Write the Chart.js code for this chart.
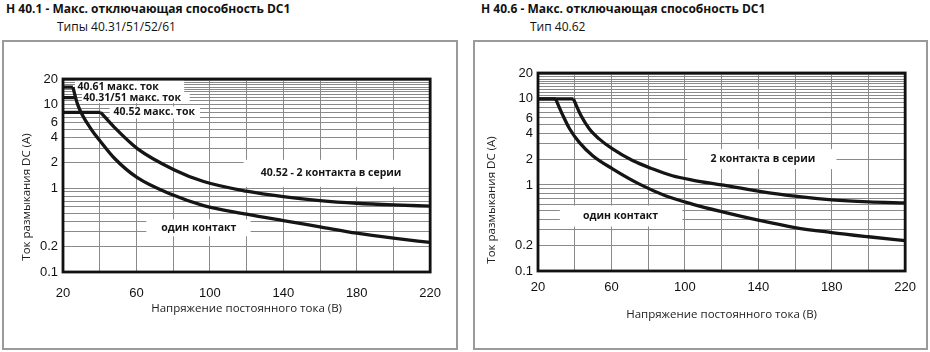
<!DOCTYPE html>
<html><head><meta charset="utf-8">
<script src="https://cdn.jsdelivr.net/npm/chart.js@4/dist/chart.umd.min.js"></script>
<style>
html,body{margin:0;padding:0;background:#fff;width:930px;height:352px;overflow:hidden;}
.t{position:absolute;font-family:"Open Sans",sans-serif;color:#111;white-space:nowrap;}
.h{font-weight:700;font-size:12px;}
.s{font-size:12px;}
.box{position:absolute;border:2px solid #9a9a9a;box-sizing:border-box;}
.cv{position:absolute;}
</style></head><body>
<div class="t h" style="left:6px;top:0px;">Н 40.1 - Макс. отключающая способность DC1</div>
<div class="t s" style="left:57px;top:18px;">Типы 40.31/51/52/61</div>
<div class="t h" style="left:481px;top:0px;">Н 40.6 - Макс. отключающая способность DC1</div>
<div class="t s" style="left:530px;top:18px;">Тип 40.62</div>
<div class="box" style="left:2px;top:40px;width:456px;height:310px;"></div>
<div class="box" style="left:473px;top:40px;width:455px;height:310px;"></div>
<div class="cv" style="left:4px;top:42px;width:451px;height:305px;"><canvas id="c1"></canvas></div>
<div class="cv" style="left:476px;top:42px;width:449px;height:305px;"><canvas id="c2"></canvas></div>
<script>
// ---- axes ----
const xGridValues = [20, 40, 60, 80, 100, 120, 140, 160, 180, 200, 220];
const xTickLabels = [20, 60, 100, 140, 180, 220];
const yGridValues = [0.1, 0.2, 0.3, 0.4, 0.5, 0.6, 0.7, 0.8, 0.9, 1, 2, 3, 4, 5, 6, 7, 8, 9, 10, 11, 12, 13, 14, 15, 16, 17, 18, 19, 20];
const yTickLabels = [0.1, 0.2, 1, 2, 4, 6, 10, 20];
const xTitle = 'Напряжение постоянного тока (В)';
const yTitle = 'Ток размыкания DC (A)';

// ---- Н 40.1 (types 40.31/51/52/61) ----
const l4061MaxV = [20, 25.4];  const l4061MaxA = [16, 16];
const l4031MaxV = [20, 27.2];  const l4031MaxA = [12, 12];
const l4052MaxV = [20, 40.5];  const l4052MaxA = [8, 8];
const lSingleV = [25.4, 28, 35.3, 40, 48, 60.5, 78.6, 96.6, 120, 140, 160, 180, 200, 220];
const lSingleA = [16, 9.9, 5.06, 3.7, 2.27, 1.33, 0.85, 0.62, 0.49, 0.41, 0.345, 0.29, 0.253, 0.225];
const lSeriesV = [40.5, 48, 60.5, 80.4, 96.6, 120, 140, 160, 180, 200, 220];
const lSeriesA = [8, 5.3, 2.96, 1.66, 1.2, 0.92, 0.79, 0.71, 0.66, 0.63, 0.61];

// ---- Н 40.6 (type 40.62) ----
const rSingleMaxV = [20, 29.6]; const rSingleMaxA = [10, 10];
const rSeriesMaxV = [20, 39.3]; const rSeriesMaxA = [10, 10];
const rSingleV = [29.6, 33.6, 37.2, 42.6, 49.8, 60.6, 75, 89.4, 104, 120, 140, 160, 180, 200, 220];
const rSingleA = [10, 6.4, 4.5, 3.1, 2.19, 1.54, 1.03, 0.75, 0.6, 0.49, 0.39, 0.32, 0.28, 0.25, 0.225];
const rSeriesV = [39.3, 43.4, 47.9, 53.3, 60.6, 71.5, 82.3, 93.2, 104, 120, 140, 160, 180, 200, 220];
const rSeriesA = [10, 6.4, 4.5, 3.43, 2.62, 1.92, 1.54, 1.28, 1.14, 1.0, 0.85, 0.74, 0.67, 0.635, 0.62];

// ---- annotation texts ----
const leftNotes = [
  {text:'40.61 макс. ток', x:50, y:16, x0:26.5, x1:86, h:13},
  {text:'40.31/51 макс. ток', x:57.7, y:12, x0:30.3, x1:89, h:11},
  {text:'40.52 макс. ток', x:69.7, y:8, x0:45.4, x1:94.6, h:12},
  {text:'40.52 - 2 контакта в серии', x:166, y:1.5, x0:118.4, x1:220, h:27},
  {text:'один контакт', x:94, y:0.336, x0:65.4, x1:122.2, h:17}
];
const rightNotes = [
  {text:'2 контакта в серии', x:142.5, y:2.0, x0:101.3, x1:182.6, h:20},
  {text:'один контакт', x:65, y:0.435, x0:31.9, x1:98.6, h:21}
];

function pts(xs, ys){ return xs.map((v,i)=>({x:v, y:ys[i]})); }
function ds(xs, ys, curved){
  return {data:pts(xs,ys), borderColor:'#151515', borderWidth:3.3, pointRadius:0, fill:false,
          cubicInterpolationMode: curved ? 'monotone' : 'default', tension:0, borderCapStyle:'butt', borderJoinStyle:'round'};
}

const panelPlugin = {
  id:'panel',
  beforeDatasetsDraw(chart, args, o){
    const {ctx, scales:{x,y}} = chart;
    ctx.save(); ctx.fillStyle='#fff';
    o.notes.forEach(n=>{
      const x0=x.getPixelForValue(n.x0), x1=x.getPixelForValue(n.x1), cy=y.getPixelForValue(n.y);
      ctx.fillRect(x0, cy-n.h/2, x1-x0, n.h);
    });
    ctx.restore();
  },
  afterDatasetsDraw(chart, args, o){
    const {ctx, scales:{x,y}} = chart;
    ctx.save(); ctx.fillStyle='#151515';
    ctx.font='bold 10.5px "Open Sans"'; ctx.textAlign='center'; ctx.textBaseline='middle';
    o.notes.forEach(n=>{ ctx.fillText(n.text, x.getPixelForValue(n.x), y.getPixelForValue(n.y)); });
    ctx.restore();
  },
  afterDraw(chart, args, o){
    const {ctx, chartArea:a} = chart;
    ctx.save(); ctx.strokeStyle='#111'; ctx.lineWidth=2.8;
    ctx.strokeRect(a.left, a.top, a.right-a.left, a.bottom-a.top);
    ctx.translate(a.left - o.yTitleDx, a.top + o.yTitleDy); ctx.rotate(-Math.PI/2);
    ctx.font='11.5px "Open Sans"'; ctx.fillStyle='#222'; ctx.textAlign='center'; ctx.textBaseline='middle';
    ctx.fillText(yTitle, 0, 0);
    ctx.restore();
  }
};

function build(id, datasets, p){
  return new Chart(document.getElementById(id), {
    type:'line',
    data:{datasets},
    plugins:[panelPlugin],
    options:{
      responsive:true, maintainAspectRatio:false, animation:false,
      layout:{padding:{top:p.top, right:p.right, bottom:p.bottom, left:0}},
      plugins:{legend:{display:false}, tooltip:{enabled:false},
        panel:{notes:p.notes, yTitleDx:p.yDx, yTitleDy:p.yDy}},
      scales:{
        x:{type:'linear', min:20, max:220,
          afterBuildTicks:s=>{ s.ticks = xGridValues.map(v=>({value:v})); },
          afterFit:s=>{ s.height = p.xh; },
          ticks:{autoSkip:false, maxRotation:0, padding:p.xpad, color:'#111',
            font:{family:'"Liberation Sans"', size:13},
            callback:v=> xTickLabels.includes(v) ? String(v) : ''},
          grid:{color:'#8a8a8a', lineWidth:1, drawTicks:false}, border:{display:false},
          title:{display:true, text:xTitle, color:'#222', padding:0, font:{family:'"Open Sans"', size:11.5}}
        },
        y:{type:'logarithmic', min:0.1, max:20,
          afterBuildTicks:s=>{ s.ticks = yGridValues.map(v=>({value:v})); },
          afterFit:s=>{ s.width = p.yw; },
          ticks:{autoSkip:false, padding:5, color:'#111',
            font:{family:'"Liberation Sans"', size:13},
            callback:v=> yTickLabels.includes(v) ? String(v) : ''},
          grid:{color:'#8a8a8a', lineWidth:1, drawTicks:false}, border:{display:false}
        }
      }
    }
  });
}

build('c1', [
  ds(l4061MaxV, l4061MaxA, false), ds(l4031MaxV, l4031MaxA, false), ds(l4052MaxV, l4052MaxA, false),
  ds(lSingleV, lSingleA, true), ds(lSeriesV, lSeriesA, true)
], {top:37, right:22, bottom:31, yw:59, xh:44, xpad:14, notes:leftNotes, yDx:36, yDy:118});

build('c2', [
  ds(rSingleMaxV, rSingleMaxA, false), ds(rSeriesMaxV, rSeriesMaxA, false),
  ds(rSingleV, rSingleA, true), ds(rSeriesV, rSeriesA, true)
], {top:31, right:18, bottom:25, yw:62, xh:51, xpad:9, notes:rightNotes, yDx:46, yDy:127});
</script>
</body></html>
